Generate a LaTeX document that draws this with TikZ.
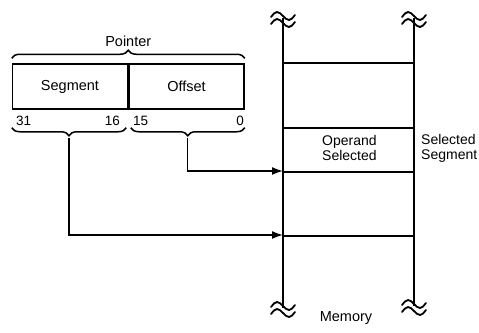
\documentclass[tikz,border=0pt]{standalone}
\usepackage{fontspec}
\setmainfont{Liberation Sans}
\usetikzlibrary{positioning, arrows.meta, decorations.pathreplacing}

\tikzset{
  brkmark/.pic={
    \draw[line width=1.8pt, line cap=round] (-12,-1) sin (-6,-6) cos (0,-2) sin (6,2) cos (12,-3);
    \draw[line width=1.8pt, line cap=round] (-12,6) sin (-6,1) cos (0,5) sin (6,9) cos (12,4);
  }
}

\begin{document}
\begin{tikzpicture}[
    x=1pt, y=-1pt,
    field/.style={draw, line width=1.5pt, minimum width=115pt, minimum height=45pt,
                  inner sep=0pt, font=\fontsize{14.5}{16}\selectfont},
    lbl/.style={inner sep=0pt, align=left, font=\fontsize{14}{15}\selectfont},
    bitlbl/.style={inner sep=0pt, font=\fontsize{13.5}{15}\selectfont},
    brc/.style={decorate, decoration={brace, amplitude=8pt}, line width=1.5pt},
    arr/.style={-{Latex[length=11pt, width=8pt]}, line width=1.6pt},
    memline/.style={line width=2pt},
    slot/.style={line width=1.5pt},
  ]
    \useasboundingbox (0,0) rectangle (479,332);

    % pointer fields
    \node[field] (seg) at (70,86.5) {Segment};
    \node[field, right=0pt of seg] (off) {Offset};
    \draw[brc] ([yshift=5pt]seg.north west) -- ([yshift=5pt]off.north east)
      node[midway, above=11pt, inner sep=0pt, font=\fontsize{14.5}{16}\selectfont] (ptr) {Pointer};

    % bit numbers
    \node[bitlbl, anchor=west] (b31) at (16,121) {31};
    \node[bitlbl, anchor=east] (b16) at (120,121) {16};
    \node[bitlbl, anchor=west] (b15) at (133,121) {15};
    \node[bitlbl, anchor=east] (b0)  at (244,121) {0};

    \draw[brc, decoration={mirror}] ([yshift=-18pt]seg.south west) -- ([xshift=-2pt, yshift=-18pt]seg.south east);
    \draw[brc, decoration={mirror}] ([xshift=2.5pt, yshift=-18pt]off.south west) -- ([yshift=-18pt]off.south east);
    \coordinate (segtip) at ([xshift=-1pt, yshift=-28pt]seg.south);
    \coordinate (offtip) at ([xshift=1pt, yshift=-28pt]off.south);

    % memory
    \coordinate (mlt) at (283,18);
    \coordinate (mlb) at (283,308);
    \coordinate (mrt) at (414,18);
    \coordinate (mrb) at (414,306);
    \draw[memline] (mlt) -- (mlb);
    \draw[memline] (mrt) -- (mrb);
    \pic at (mlt) {brkmark};
    \pic at (mrt) {brkmark};
    \pic at (mlb) {brkmark};
    \pic at (mrb) {brkmark};
    \foreach \y in {63,128,172,236}
      \draw[slot] (283,\y) -- (414,\y);

    \node[lbl, anchor=west] (opsel)  at (322,148) {Operand\\Selected};
    \node[lbl, anchor=west] (segsel) at (421,148) {Selected\\Segment};
    \node[inner sep=0pt, font=\fontsize{14.5}{16}\selectfont] (mem) at (346,318) {Memory};

    % address arrows
    \coordinate (offin) at (mlt |- 0,171);
    \coordinate (segin) at (mlt |- 0,235);
    \draw[arr] (offtip) |- (offin);
    \draw[arr] (segtip) |- (segin);
  \end{tikzpicture}
\end{document}
